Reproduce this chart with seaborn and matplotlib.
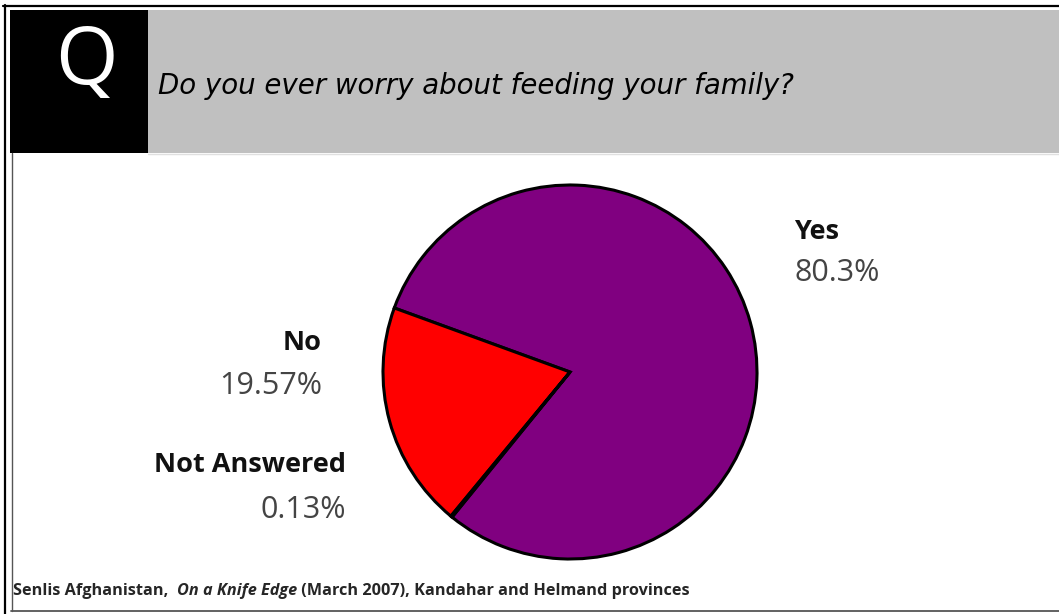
import matplotlib
matplotlib.use("Agg")
import matplotlib.pyplot as plt
import seaborn as sns
from matplotlib.patches import Rectangle
from matplotlib.lines import Line2D

# ---- data ----
categories = ["Yes", "No", "Not Answered"]
values = [80.3, 19.57, 0.13]
pct_labels = ["80.3%", "19.57%", "0.13%"]
colors = ["#800080", "#ff0000", "#ffff00"]
question = "Do you ever worry about feeding your family?"
source_parts = ["Senlis Afghanistan,  ", "On a Knife Edge", " (March 2007), Kandahar and Helmand provinces"]

sns.set_theme(style="white")
plt.rcParams['font.family'] = ['Open Sans', 'DejaVu Sans']

W, H = 1059, 614
fig = plt.figure(figsize=(W / 100, H / 100), dpi=100)
fig.patch.set_facecolor("white")
fig.canvas.draw()
R = fig.canvas.get_renderer()


def fx(x):
    return x / W


def fy(y):
    return 1 - y / H


def fit_width(t, target_px):
    w = t.get_window_extent(R).width
    t.set_fontsize(t.get_fontsize() * target_px / w)


# header
fig.patches.append(Rectangle((fx(10), fy(153)), fx(148) - fx(10), (153 - 10) / H,
                             transform=fig.transFigure, facecolor="black", edgecolor="none"))
fig.patches.append(Rectangle((fx(148), fy(153)), 1 - fx(148), (153 - 10) / H,
                             transform=fig.transFigure, facecolor="#c0c0c0", edgecolor="none"))
fig.lines.append(Line2D([fx(148), 1], [fy(154), fy(154)], transform=fig.transFigure, color="#e0e0e0", lw=1))
# borders
fig.lines.append(Line2D([fx(3), 1], [fy(5.5), fy(5.5)], transform=fig.transFigure, color="black", lw=1.6))
fig.lines.append(Line2D([fx(5), fx(5)], [fy(5), 0], transform=fig.transFigure, color="black", lw=1.6))
fig.lines.append(Line2D([fx(11.5), fx(11.5)], [fy(153), fy(611)], transform=fig.transFigure, color="#555555", lw=1))
fig.lines.append(Line2D([fx(11), 1], [fy(610.5), fy(610.5)], transform=fig.transFigure, color="#555555", lw=1.3))

fig.text(fx(86), fy(63), "Q", color="white", fontsize=58, ha="center", va="center", family="Open Sans")
tq = fig.text(fx(158), fy(86), question, fontsize=18, style="italic", ha="left", va="center",
              color="black", family="DejaVu Sans")
fit_width(tq, 636)

# footer
FS = 11.7
t = fig.text(fx(13), fy(591), source_parts[0], fontsize=FS, fontweight="bold", ha="left", va="center")
bb = t.get_window_extent(R)
t2 = fig.text(bb.x1 / W, fy(591), source_parts[1], fontsize=FS, fontweight="bold", style="italic", ha="left", va="center")
bb2 = t2.get_window_extent(R)
fig.text(bb2.x1 / W, fy(591), source_parts[2], fontsize=FS, fontweight="bold", ha="left", va="center")

# pie
cx, cy, rad = 570, 372, 187
ax = fig.add_axes([fx(cx - rad), fy(cy + rad), 2 * rad / W, 2 * rad / H])
wedges, _ = ax.pie(values, colors=colors, startangle=230.9, counterclock=True,
                   wedgeprops=dict(edgecolor="black", linewidth=2.2))
for w in wedges:
    w.set_clip_on(False)
ax.set_xlim(-1, 1)
ax.set_ylim(-1, 1)
ax.set_aspect("equal")
ax.axis("off")

# labels
label_pos = {
    "Yes": (794, 232, 795, 273, "left"),
    "No": (322, 343, 322, 386, "right"),
    "Not Answered": (346, 465, 346, 510, "right"),
}
for cat, pct in zip(categories, pct_labels):
    lx, ly, px, py, ha = label_pos[cat]
    fig.text(fx(lx), fy(ly), cat, fontsize=19.5, fontweight="bold", ha=ha, va="center", color="#111111")
    fig.text(fx(px), fy(py), pct, fontsize=22, ha=ha, va="center", color="#444444")

fig.savefig("out.png", dpi=100, facecolor="white")
